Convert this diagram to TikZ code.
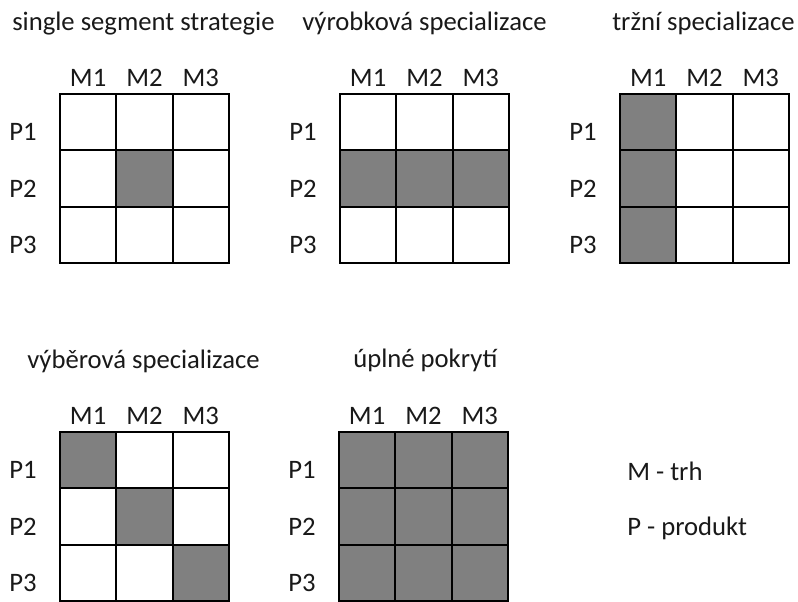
\documentclass[tikz,border=0pt]{standalone}
\usepackage{fontspec}
\setmainfont{Carlito}
\definecolor{cellgray}{RGB}{128,128,128}
\definecolor{txt}{RGB}{25,25,25}
\newcommand\mygrid[4]{% name, left x, top y, nine fill flags
  \foreach \f [count=\i from 0] in {#4} {
    \pgfmathtruncatemacro\rr{div(\i,3)}
    \pgfmathtruncatemacro\cc{mod(\i,3)}
    \node[cell, f\f] (#1-\rr\cc) at ({#2+(\cc+0.5)*56.3},{#3+(\rr+0.5)*56.3}) {};
  }
  \foreach \k in {1,2,3} {
    \node[lbl, anchor=base] (#1-m\k) at ({#2+(\k-0.5)*56.3},{#3-8}) {M\k};
    \node[lbl, anchor=base west] (#1-p\k) at ({#2-51},{#3+\k*56.3-9.5}) {P\k};
  }
}
\begin{document}
\begin{tikzpicture}[x=0.75pt,y=-0.75pt,
  cell/.style={draw=black, line width=1.5pt, inner sep=0pt, minimum size=42.2pt, rectangle},
  f0/.style={fill=white},
  f1/.style={fill=cellgray},
  lbl/.style={inner sep=0pt, text=txt, font=\fontsize{20pt}{24pt}\selectfont},
  ttl/.style={lbl, anchor=base west}]
\useasboundingbox (0,0) rectangle (798,601);
\node[ttl] (t1) at (12,30) {single segment strategie};
\node[ttl] (t2) at (302,30) {výrobková specializace};
\node[ttl] (t3) at (612,30) {tržní specializace};
\node[ttl] (t4) at (27,368) {výběrová specializace};
\node[ttl] (t5) at (353,367) {úplné pokrytí};
\node[ttl] (lm) at (627,480) {M - trh};
\node[ttl] (lp) at (627,535) {P - produkt};
\mygrid{g1}{60}{94}{0,0,0,0,1,0,0,0,0}
\mygrid{g2}{340}{94}{0,0,0,1,1,1,0,0,0}
\mygrid{g3}{620}{94}{1,0,0,1,0,0,1,0,0}
\mygrid{g4}{60}{432}{1,0,0,0,1,0,0,0,1}
\mygrid{g5}{339}{432}{1,1,1,1,1,1,1,1,1}
\end{tikzpicture}
\end{document}
